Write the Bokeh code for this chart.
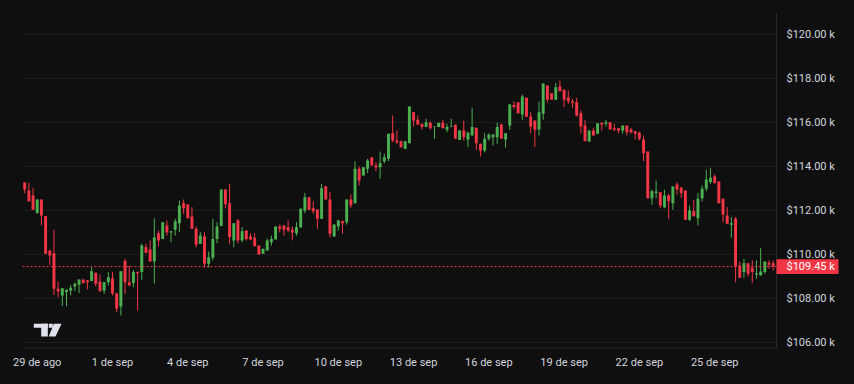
import pandas as pd
from bokeh.plotting import figure
from bokeh.models import (ColumnDataSource, Range1d, LinearAxis, FixedTicker,
                          CustomJSTickFormatter, BoxAnnotation, PolyAnnotation)
from bokeh.core.properties import value
from bokeh.embed import file_html
from bokeh.resources import INLINE

# ---------------- data (BTC/USD, 4h candles, values in thousands of USD) ----------------
first_candle = "2025-08-28 12:00"

opens = [113.27,112.91,112.68,111.88,112.50,111.74,110.18,110.06,108.44,108.14,
         108.29,108.36,108.55,108.62,108.85,108.83,108.79,109.17,108.77,108.36,
         108.74,108.92,108.24,107.64,109.70,108.74,108.70,109.20,109.20,110.33,
         110.23,109.68,110.97,110.71,111.32,111.00,111.12,111.42,112.33,112.27,
         111.73,111.17,110.49,110.82,109.58,109.85,110.71,111.29,112.95,112.33,
         110.64,111.55,110.64,111.09,110.82,110.76,110.41,110.03,110.18,110.56,
         110.68,111.27,111.32,111.24,111.12,110.97,111.24,112.00,112.60,112.10,
         112.05,111.62,113.10,112.50,110.82,111.27,111.51,111.47,112.50,112.33,
         113.90,113.59,113.90,114.42,114.05,113.97,114.23,114.35,115.51,115.18,
         115.15,114.80,115.06,116.47,116.12,115.94,115.79,115.99,115.79,115.79,
         115.99,115.67,115.79,115.90,115.21,115.64,115.23,115.41,115.76,115.03,
         114.73,115.26,115.33,115.33,115.91,115.23,115.86,116.80,116.92,116.36,
         117.12,116.27,116.09,115.68,116.40,117.68,117.33,117.03,117.64,117.49,
         117.15,116.97,116.92,116.42,115.86,115.14,115.64,115.49,115.99,115.94,
         116.01,115.74,115.74,115.64,115.86,115.68,115.60,115.53,115.23,114.68,
         112.56,112.80,112.83,112.15,112.68,112.33,113.18,113.03,112.91,111.58,
         111.97,111.65,112.56,112.99,113.29,113.55,113.32,112.53,111.77,111.35,
         111.62,109.50,109.20,109.60,109.40,109.09,109.05,109.20,109.62,109.60]

highs = [113.27,113.27,113.03,112.50,112.50,111.74,110.18,111.12,108.77,108.47,
         108.40,108.62,108.73,108.86,108.90,108.83,109.42,109.17,109.09,108.74,
         109.20,109.20,108.24,109.24,109.80,109.50,109.30,109.23,110.49,110.49,
         110.64,111.64,111.09,111.47,111.55,111.06,111.62,112.45,112.50,112.27,
         112.15,111.27,111.01,111.01,110.14,111.62,111.47,112.95,112.95,113.21,
         111.42,111.62,111.24,111.09,110.97,110.97,110.41,110.26,110.73,110.86,
         111.27,111.36,111.32,111.55,111.27,111.47,112.09,112.80,112.60,112.42,
         112.05,113.21,113.10,112.86,111.36,111.58,111.55,112.50,112.73,114.23,
         114.00,113.97,114.35,114.42,114.20,114.68,114.58,115.49,116.32,115.64,
         115.18,115.15,116.73,116.47,116.32,115.94,116.17,116.05,115.82,115.99,
         116.12,115.94,116.17,115.90,115.64,116.09,115.59,116.67,115.76,115.03,
         115.51,115.51,115.49,115.99,115.94,115.51,116.85,116.97,116.92,117.27,
         117.12,116.47,116.09,116.95,117.80,117.68,117.33,117.80,117.91,117.49,
         117.45,117.08,117.12,116.55,116.12,115.64,115.76,115.97,115.99,116.12,
         116.01,115.94,115.74,115.86,115.86,115.76,115.60,115.59,115.41,114.68,
         112.95,113.36,112.83,112.94,112.76,113.09,113.29,113.09,112.91,112.23,
         112.49,112.80,113.14,113.85,113.94,113.64,113.32,112.53,112.15,111.70,
         111.70,109.68,109.80,109.60,109.73,109.73,110.30,109.68,109.73,109.73]

lows = [112.79,112.42,112.03,111.88,111.32,110.03,109.53,108.17,108.06,107.65,
        107.65,108.14,108.33,108.24,108.67,108.41,108.79,108.55,108.33,108.21,
        108.59,108.14,107.38,107.23,108.21,108.59,108.51,107.45,108.85,110.07,
        109.68,108.68,110.38,110.71,110.86,110.56,110.86,111.01,111.85,111.65,
        111.17,110.33,110.49,109.40,109.40,109.73,110.51,111.29,112.10,110.49,
        110.33,110.51,110.56,110.64,110.64,110.38,110.00,110.03,110.18,110.41,
        110.68,111.01,110.86,111.01,110.64,110.86,111.20,111.88,112.03,111.85,
        111.17,111.62,112.50,110.79,110.82,111.09,110.94,111.36,112.12,112.33,
        113.14,113.59,113.70,114.05,113.79,113.44,114.15,114.24,115.10,115.03,
        114.86,114.80,115.06,115.82,115.91,115.68,115.79,115.68,115.26,115.79,
        115.74,115.56,115.79,115.26,115.21,115.18,114.88,115.41,114.76,114.45,
        114.65,115.18,114.95,115.03,115.26,114.85,115.67,116.62,116.42,116.12,
        116.26,115.51,114.88,115.41,116.12,116.92,117.03,117.03,117.42,116.70,
        116.85,116.67,116.27,115.49,115.15,115.14,115.41,115.49,115.64,115.82,
        115.68,115.60,115.51,115.49,115.41,115.49,115.23,115.18,114.24,112.56,
        112.26,112.56,112.10,112.10,111.62,112.03,112.71,112.58,111.58,111.51,
        111.74,111.32,112.41,112.88,113.21,113.21,112.33,111.47,111.40,110.76,
        108.74,108.94,108.94,109.00,108.70,108.90,109.05,109.12,109.35,109.27]

closes = [112.95,112.42,112.03,112.50,111.77,110.03,109.95,108.44,108.32,108.47,
          108.40,108.49,108.67,108.86,108.70,108.74,109.24,108.67,108.33,108.74,
          108.97,108.23,107.53,109.24,108.74,108.59,109.20,109.15,110.41,110.07,
          109.68,110.77,110.64,111.47,111.01,111.06,111.51,112.23,112.10,111.65,
          111.17,110.44,110.86,109.58,109.88,110.71,111.27,112.95,112.30,110.79,
          111.42,110.64,111.06,110.71,110.68,110.38,110.00,110.26,110.64,110.71,
          111.27,111.17,111.12,111.09,111.00,111.24,112.08,112.60,112.03,111.97,
          111.62,113.01,112.50,110.94,111.36,111.55,111.42,112.50,112.23,113.90,
          113.36,113.97,114.27,114.05,113.97,114.15,114.42,115.49,115.18,115.10,
          114.88,115.15,116.73,116.09,115.91,115.79,116.01,115.74,115.82,115.99,
          115.74,115.79,115.82,115.26,115.64,115.33,115.53,115.79,115.06,114.73,
          115.26,115.44,115.44,115.79,115.26,115.51,116.82,116.70,116.42,117.18,
          116.26,115.82,115.67,116.47,117.76,117.03,117.03,117.60,117.42,117.03,
          116.97,116.90,116.32,115.82,115.15,115.64,115.41,115.97,115.91,116.01,
          115.68,115.67,115.64,115.86,115.56,115.56,115.49,115.26,114.60,112.56,
          112.88,112.86,112.23,112.68,112.42,113.09,112.95,112.80,111.58,112.00,
          111.74,112.53,112.99,113.41,113.49,113.26,112.33,111.82,111.40,111.42,
          109.45,108.94,109.60,109.12,109.20,109.15,109.23,109.68,109.53,109.45]

last_price = 109.45
last_price_text = "$109.45 k"

tick_dates = ["2025-08-29", "2025-09-01", "2025-09-04", "2025-09-07", "2025-09-10",
              "2025-09-13", "2025-09-16", "2025-09-19", "2025-09-22", "2025-09-25"]
tick_texts = ["29 de ago", "1 de sep", "4 de sep", "7 de sep", "10 de sep",
              "13 de sep", "16 de sep", "19 de sep", "22 de sep", "25 de sep"]
price_ticks = [106, 108, 110, 112, 114, 116, 118, 120]
price_tick_texts = ["$106.00 k", "$108.00 k", "$110.00 k", "$112.00 k",
                    "$114.00 k", "$116.00 k", "$118.00 k", "$120.00 k"]

# ---------------- styling / layout ----------------
BG = "#0f0f0f"
GRID = "#1d1d1d"
BORDER = "#2b2b2b"
TEXT = "#d1d4dc"
UP = "#4caf50"
DOWN = "#f23645"
FONT = "Roboto"

W, H = 854, 384
LEFT, CHART_RIGHT, FRAME_H = 22, 776, 348   # pixel layout of the chart pane
DAY_MS = 86400000
PX_PER_DAY = 25.09
PX_PER_K = 22.0
ref_day = pd.Timestamp("2025-09-01").value // 10**6   # x pixel 112
ref_price, ref_px = 120.0, 34                          # $120k gridline at y pixel 34


def t_at(px):
    return ref_day + (px - 112) / PX_PER_DAY * DAY_MS


def p_at(py):
    return ref_price - (py - ref_px) / PX_PER_K


x_start, x_end = t_at(LEFT), t_at(W)
y_bot, y_top = p_at(FRAME_H), p_at(0)

times = pd.date_range(first_candle, periods=len(opens), freq="4h")
t_ms = (times.asi8 // 10**6).astype(float)
colors = [UP if c >= o else DOWN for o, c in zip(opens, closes)]
src = ColumnDataSource(dict(
    t=t_ms, open=opens, high=highs, low=lows, close=closes,
    top=[max(o, c) for o, c in zip(opens, closes)],
    bottom=[min(o, c) for o, c in zip(opens, closes)],
    color=colors))

p = figure(width=W, height=H, frame_width=W - LEFT, frame_height=FRAME_H,
           x_range=Range1d(x_start, x_end), y_range=Range1d(y_bot, y_top),
           x_axis_type=None, y_axis_type=None,
           output_backend="svg", toolbar_location=None,
           min_border_left=LEFT, min_border_right=0, min_border_top=0,
           min_border_bottom=H - FRAME_H,
           background_fill_color=BG, border_fill_color=BG, outline_line_color=None)
p.styles = {"background-color": BG}

# time axis below the pane
tick_ms = [float(pd.Timestamp(d).value // 10**6) for d in tick_dates]
xaxis = LinearAxis(ticker=FixedTicker(ticks=tick_ms),
                   formatter=CustomJSTickFormatter(
                       args=dict(tick_vals=tick_ms, tick_labels=tick_texts),
                       code="""
                       const i = tick_vals.indexOf(tick);
                       return i < 0 ? "" : tick_labels[i];
                       """))
xaxis.axis_line_color = None
xaxis.major_tick_line_color = None
xaxis.minor_tick_line_color = None
xaxis.major_tick_out = 0
xaxis.major_tick_in = 0
xaxis.major_label_text_color = TEXT
xaxis.major_label_text_font = FONT
xaxis.major_label_text_font_size = "11px"
xaxis.major_label_standoff = 7
p.add_layout(xaxis, "below")

# horizontal grid of the chart pane
n = len(price_ticks)
p.segment(x0=[t_at(LEFT)] * n, x1=[t_at(CHART_RIGHT)] * n, y0=price_ticks, y1=price_ticks,
          line_color=GRID, line_width=1)

# pane borders (right price scale edge and bottom time scale edge)
p.segment(x0=[t_at(CHART_RIGHT)], x1=[t_at(CHART_RIGHT)], y0=[y_bot], y1=[p_at(13)],
          line_color=BORDER, line_width=1)
p.segment(x0=[t_at(LEFT)], x1=[t_at(CHART_RIGHT)], y0=[p_at(FRAME_H - 0.5)],
          y1=[p_at(FRAME_H - 0.5)], line_color=BORDER, line_width=1)

# candles
candle_w = 0.7 * 4 * 3600 * 1000
p.segment(x0="t", y0="low", x1="t", y1="high", line_color="color", line_width=1, source=src)
p.vbar(x="t", width=candle_w, top="top", bottom="bottom", fill_color="color",
       line_color=None, source=src)

# last price line
p.segment(x0=[t_at(LEFT)], x1=[t_at(CHART_RIGHT)], y0=[last_price], y1=[last_price],
          line_color=DOWN, line_dash="2 2", line_width=1)

# price scale labels
label_x = t_at(CHART_RIGHT + 10)
p.text(x=[label_x] * n, y=price_ticks, text=price_tick_texts,
       text_align="left", text_baseline="middle", text_color=TEXT,
       text_font=value(FONT), text_font_size="11px")

# last price tag
half_h = 7.4 / PX_PER_K
p.quad(left=[t_at(CHART_RIGHT)], right=[t_at(838)], top=[last_price + half_h],
       bottom=[last_price - half_h], fill_color=DOWN, line_color=None)
p.text(x=[label_x], y=[last_price], text=[last_price_text],
       text_align="left", text_baseline="middle", text_color="#ffffff",
       text_font=value(FONT), text_font_size="11px")

# TradingView logo
LOGO = "#e0e3eb"
p.add_layout(BoxAnnotation(left=t_at(33.3), right=t_at(47.3), top=p_at(323.3), bottom=p_at(327.3),
                           fill_color=LOGO, fill_alpha=1, line_color=None))
p.add_layout(BoxAnnotation(left=t_at(40.7), right=t_at(47.3), top=p_at(323.3), bottom=p_at(336),
                           fill_color=LOGO, fill_alpha=1, line_color=None))
p.add_layout(BoxAnnotation(left=t_at(48.3), right=t_at(52.3), top=p_at(323.3), bottom=p_at(327.3),
                           fill_color=LOGO, fill_alpha=1, line_color=None))
p.add_layout(PolyAnnotation(xs=[t_at(53.3), t_at(61), t_at(55), t_at(48.3)],
                            ys=[p_at(323.3), p_at(323.3), p_at(336), p_at(336)],
                            fill_color=LOGO, fill_alpha=1, line_color=None))

open("out.html", "w").write(file_html(p, INLINE))
